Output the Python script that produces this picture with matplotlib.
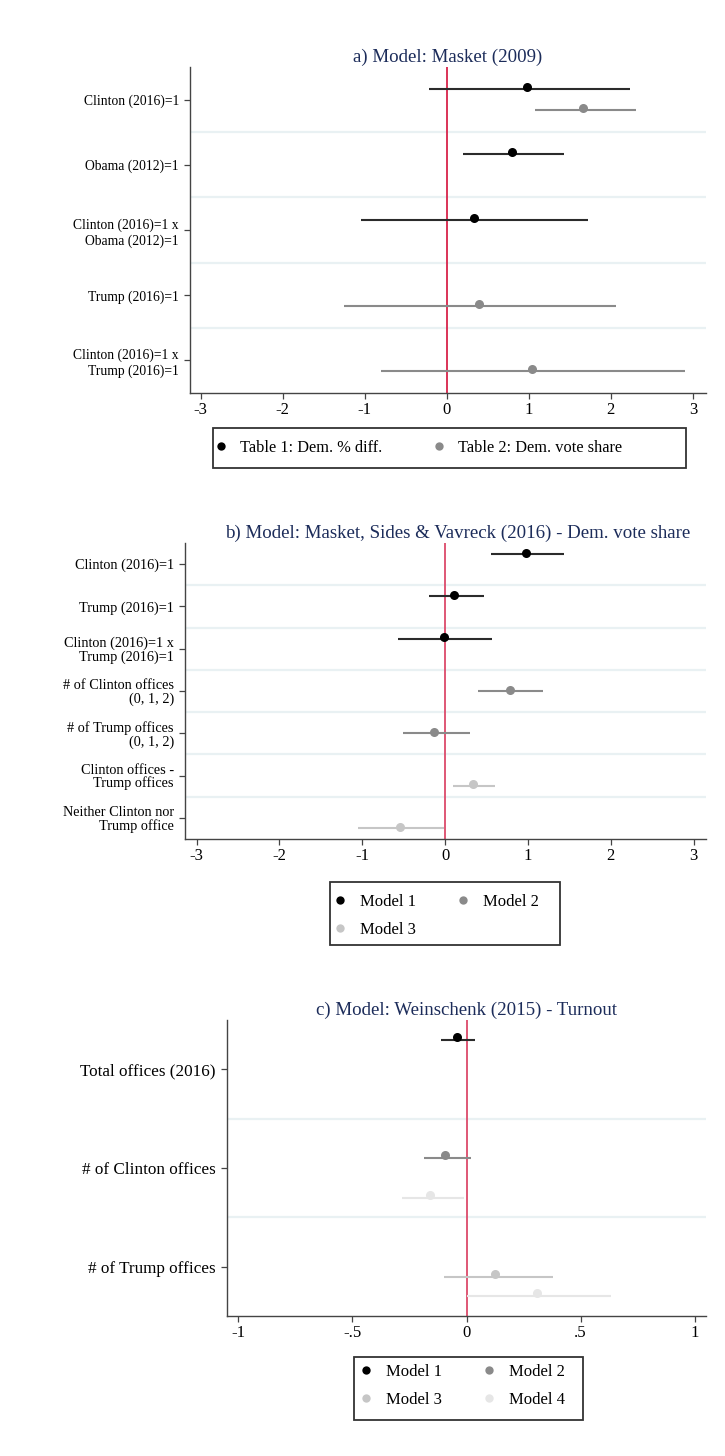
import numpy as np
import matplotlib
matplotlib.use("Agg")
import matplotlib.pyplot as plt
from matplotlib.lines import Line2D
from matplotlib.patches import Rectangle

plt.rcParams["font.family"] = ["Liberation Serif", "DejaVu Serif"]

# ---- panel a: Masket (2009)
a_labels = ["Clinton (2016)=1", "Obama (2012)=1", "Clinton (2016)=1 x\nObama (2012)=1",
            "Trump (2016)=1", "Clinton (2016)=1 x\nTrump (2016)=1"]
a_series = ["Table 1: Dem. % diff.", "Table 2: Dem. vote share"]
a_est = [[0.98, 0.80, 0.33, np.nan, np.nan],
         [1.66, np.nan, np.nan, 0.39, 1.04]]
a_lo = [[-0.22, 0.20, -1.04, np.nan, np.nan],
        [1.07, np.nan, np.nan, -1.25, -0.80]]
a_hi = [[2.23, 1.43, 1.72, np.nan, np.nan],
        [2.31, np.nan, np.nan, 2.06, 2.90]]
a_ticks = [-3, -2, -1, 0, 1, 2, 3]
a_ticklabels = ["-3", "-2", "-1", "0", "1", "2", "3"]

# ---- panel b: Masket, Sides & Vavreck (2016)
b_labels = ["Clinton (2016)=1", "Trump (2016)=1", "Clinton (2016)=1 x\nTrump (2016)=1",
            "# of Clinton offices\n(0, 1, 2)", "# of Trump offices\n(0, 1, 2)",
            "Clinton offices -\nTrump offices", "Neither Clinton nor\nTrump office"]
b_series = ["Model 1", "Model 2", "Model 3"]
b_est = [[0.98, 0.11, -0.01, np.nan, np.nan, np.nan, np.nan],
         [np.nan, np.nan, np.nan, 0.78, -0.13, np.nan, np.nan],
         [np.nan, np.nan, np.nan, np.nan, np.nan, 0.34, -0.54]]
b_lo = [[0.55, -0.20, -0.57, np.nan, np.nan, np.nan, np.nan],
        [np.nan, np.nan, np.nan, 0.40, -0.51, np.nan, np.nan],
        [np.nan, np.nan, np.nan, np.nan, np.nan, 0.09, -1.05]]
b_hi = [[1.44, 0.47, 0.57, np.nan, np.nan, np.nan, np.nan],
        [np.nan, np.nan, np.nan, 1.18, 0.30, np.nan, np.nan],
        [np.nan, np.nan, np.nan, np.nan, np.nan, 0.60, -0.01]]

# ---- panel c: Weinschenk (2015)
c_labels = ["Total offices (2016)", "# of Clinton offices", "# of Trump offices"]
c_series = ["Model 1", "Model 2", "Model 3", "Model 4"]
c_est = [[-0.04, np.nan, np.nan],
         [np.nan, -0.095, np.nan],
         [np.nan, np.nan, 0.127],
         [np.nan, -0.158, 0.307]]
c_lo = [[-0.11, np.nan, np.nan],
        [np.nan, -0.186, np.nan],
        [np.nan, np.nan, -0.10],
        [np.nan, -0.283, 0.0]]
c_hi = [[0.036, np.nan, np.nan],
        [np.nan, 0.018, np.nan],
        [np.nan, np.nan, 0.38],
        [np.nan, -0.01, 0.632]]
c_ticks = [-1, -0.5, 0, 0.5, 1]
c_ticklabels = ["-1", "-.5", "0", ".5", "1"]

W, H = 725, 1456
MARKER_COLORS = ["#000000", "#8a8a8a", "#c6c6c6", "#e6e6e6"]
LINE_COLORS = ["#2b2b2b", "#8a8a8a", "#c6c6c6", "#e6e6e6"]
TITLE_COLOR = "#1c2c5a"


def px_axes(fig, left, right, top, bottom):
    return fig.add_axes([left / W, 1 - bottom / H, (right - left) / W, (bottom - top) / H])


def draw_panel(ax, labels, est, lo, hi, offsets, colors_idx, xlim, ticks, ticklabels,
               title, red, label_size, linespacing, title_x=0.5):
    n = len(labels)
    rows = np.arange(n)
    for i in range(n - 1):
        ax.axhline(i + 0.5, color="#e9f1f3", lw=1.6, zorder=0)
    ax.axvline(0, color=red, lw=1.3, zorder=1)
    for k in range(len(est)):
        y = rows + offsets[k]
        ci = colors_idx[k]
        ax.hlines(y, lo[k], hi[k], color=LINE_COLORS[ci], lw=1.5, zorder=2)
        ax.plot(est[k], y - 0.03, "o", color=MARKER_COLORS[ci], ms=6.5, mew=0, zorder=3)
    ax.set_ylim(n - 0.5, -0.5)
    ax.set_xlim(*xlim)
    ax.set_yticks(rows)
    ax.set_yticklabels(labels, fontsize=label_size, multialignment="right",
                       linespacing=linespacing)
    ax.set_xticks(ticks)
    ax.set_xticklabels(ticklabels, fontsize=12)
    ax.spines["top"].set_visible(False)
    ax.spines["right"].set_visible(False)
    for s in ("left", "bottom"):
        ax.spines[s].set_color("#444444")
        ax.spines[s].set_linewidth(1.0)
    ax.tick_params(axis="both", length=4.5, width=0.9, color="#444444")
    ax.tick_params(axis="x", pad=2)
    ax.tick_params(axis="y", pad=3.5)
    ax.set_title(title, fontsize=13.6, color=TITLE_COLOR, pad=4, x=title_x)


def legend(fig, names, colors_idx, order, box, anchor, fontsize, textpad, colspace,
           labelspace):
    handles = [Line2D([], [], marker="o", ls="none", color=MARKER_COLORS[c], ms=6, mew=0)
               for c in colors_idx]
    h = [handles[i] for i in order]
    l = [names[i] for i in order]
    fig.legend(h, l, loc="center left", ncol=2,
               bbox_to_anchor=(anchor[0] / W, 1 - anchor[1] / H),
               fontsize=fontsize, frameon=False, handlelength=0.6,
               handletextpad=textpad, borderpad=0, labelspacing=labelspace,
               columnspacing=colspace, borderaxespad=0)
    x0, y0, x1, y1 = box
    fig.add_artist(Rectangle((x0 / W, 1 - y1 / H), (x1 - x0) / W, (y1 - y0) / H,
                             transform=fig.transFigure, fill=False,
                             edgecolor="#333333", lw=1.3))


fig = plt.figure(figsize=(W / 100, H / 100), dpi=100)

ax_a = px_axes(fig, 190, 706, 67, 393)
draw_panel(ax_a, a_labels, a_est, a_lo, a_hi, [-0.16, 0.16], [0, 1], (-3.13, 3.16),
           a_ticks, a_ticklabels, "a) Model: Masket (2009)", "#d8234a", 9.8, 1.25)
legend(fig, a_series, [0, 1], [0, 1], (213, 428, 686, 468), (216, 448), 11.8, 0.85, 3.2, 0.5)

ax_b = px_axes(fig, 185, 706, 543, 839)
draw_panel(ax_b, b_labels, b_est, b_lo, b_hi, [-0.24, 0.0, 0.24], [0, 1, 2], (-3.14, 3.15),
           a_ticks, a_ticklabels,
           "b) Model: Masket, Sides & Vavreck (2016) - Dem. vote share", "#dc4a6a", 10.3, 1.0,
           title_x=0.524)
legend(fig, b_series, [0, 1, 2], [0, 2, 1], (330, 882, 560, 945), (335, 916), 12, 0.9, 2.5, 0.75)

ax_c = px_axes(fig, 227, 706, 1020, 1316)
draw_panel(ax_c, c_labels, c_est, c_lo, c_hi, [-0.3, -0.1, 0.1, 0.3], [0, 1, 2, 3], (-1.05, 1.05),
           c_ticks, c_ticklabels, "c) Model: Weinschenk (2015) - Turnout", "#dc4a6a", 12.3, 1.0)
legend(fig, c_series, [0, 1, 2, 3], [0, 2, 1, 3], (354, 1357, 583, 1420), (361, 1386), 12, 0.9,
       2.5, 0.7)

fig.savefig("out.png", dpi=100)
